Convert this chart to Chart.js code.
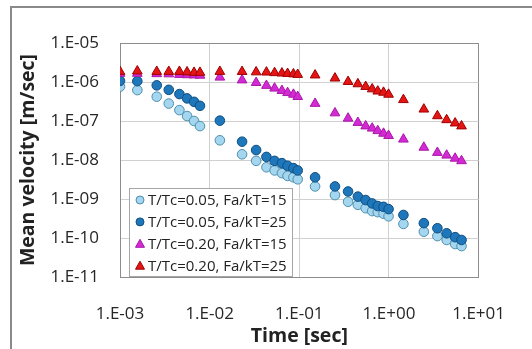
<!DOCTYPE html>
<html>
<head>
<meta charset="utf-8">
<script src="https://cdn.jsdelivr.net/npm/chart.js@4.4.1/dist/chart.umd.min.js"></script>
<style>
  html, body { margin: 0; padding: 0; background: #fff; }
  #wrap { width: 532px; height: 349px; }
</style>
</head>
<body>
<div id="wrap"><canvas id="c" width="532" height="349"></canvas></div>
<script>
// time points [sec], shared by all four series
const time = [0.001, 0.00156, 0.00257, 0.0035, 0.0046, 0.0056, 0.0067, 0.0078,
  0.013, 0.023, 0.033, 0.043, 0.053, 0.064, 0.074, 0.086, 0.096,
  0.15, 0.25, 0.35, 0.45, 0.55, 0.65, 0.75, 0.87, 0.99,
  1.45, 2.45, 3.47, 4.4, 5.47, 6.45]

// mean velocity [m/sec]
const tc005fa15 = [7.6e-7, 6.2e-7, 4.2e-7, 2.8e-7, 1.9e-7, 1.34e-7, 1.0e-7, 7.4e-8,
  3.2e-8, 1.4e-8, 9.5e-9, 6.5e-9, 5.4e-9, 4.6e-9, 3.9e-9, 3.6e-9, 3.2e-9,
  2.1e-9, 1.26e-9, 8.5e-10, 7.1e-10, 5.8e-10, 4.9e-10, 4.6e-10, 4.2e-10, 3.6e-10,
  2.3e-10, 1.45e-10, 1.12e-10, 8.9e-11, 7.0e-11, 6.2e-11]
const tc005fa25 = [1.07e-6, 1.05e-6, 8.2e-7, 6.3e-7, 4.9e-7, 3.8e-7, 3.1e-7, 2.45e-7,
  1.02e-7, 2.95e-8, 1.8e-8, 1.2e-8, 9.5e-9, 8.3e-9, 7.1e-9, 6.2e-9, 5.4e-9,
  3.6e-9, 2.1e-9, 1.56e-9, 1.15e-9, 9.4e-10, 7.7e-10, 6.6e-10, 6.3e-10, 5.5e-10,
  3.9e-10, 2.4e-10, 1.78e-10, 1.32e-10, 1.05e-10, 8.9e-11]
const tc020fa15 = [1.65e-6, 1.65e-6, 1.62e-6, 1.6e-6, 1.55e-6, 1.52e-6, 1.5e-6, 1.48e-6,
  1.32e-6, 1.12e-6, 9.6e-7, 8.1e-7, 6.9e-7, 6.0e-7, 5.3e-7, 4.8e-7, 4.2e-7,
  2.8e-7, 1.6e-7, 1.17e-7, 9.1e-8, 7.4e-8, 6.5e-8, 5.6e-8, 4.8e-8, 4.2e-8,
  3.4e-8, 2.1e-8, 1.55e-8, 1.32e-8, 1.1e-8, 9.5e-9]
const tc020fa25 = [1.85e-6, 1.9e-6, 1.85e-6, 1.85e-6, 1.85e-6, 1.8e-6, 1.75e-6, 1.75e-6,
  1.85e-6, 1.84e-6, 1.8e-6, 1.78e-6, 1.72e-6, 1.68e-6, 1.64e-6, 1.6e-6, 1.55e-6,
  1.5e-6, 1.25e-6, 1.02e-6, 8.9e-7, 7.6e-7, 6.6e-7, 5.8e-7, 5.4e-7, 4.8e-7,
  3.5e-7, 2.0e-7, 1.35e-7, 1.07e-7, 8.8e-8, 7.4e-8]

const labels = ['T/Tc=0.05, Fa/kT=15', 'T/Tc=0.05, Fa/kT=25', 'T/Tc=0.20, Fa/kT=15', 'T/Tc=0.20, Fa/kT=25']
const xTicks = [1e-3, 1e-2, 1e-1, 1e0, 1e1]
const yTicks = [1e-11, 1e-10, 1e-9, 1e-8, 1e-7, 1e-6, 1e-5]

const FONT = "'Open Sans', 'DejaVu Sans', sans-serif"

const styles = [
  {fill: '#a4d6ef', line: '#4f8fae', shape: 'circle', r: 4.8},
  {fill: '#1f77bb', line: '#0f4f82', shape: 'circle', r: 4.8},
  {fill: '#d42ad4', line: '#a818a8', shape: 'triangle', r: 5.6},
  {fill: '#e51515', line: '#a00000', shape: 'triangle', r: 5.6}
]
const series = [tc005fa15, tc005fa25, tc020fa15, tc020fa25]

function sci(v){
  const e = Math.round(Math.log10(v))
  const s = e < 0 ? '-' : '+'
  return '1.E' + s + String(Math.abs(e)).padStart(2, '0')
}

const datasets = series.map((vals, i) => ({
  label: labels[i],
  data: vals.map((v, k) => ({x: time[k], y: v})),
  pointStyle: styles[i].shape,
  pointRadius: styles[i].r,
  pointBackgroundColor: styles[i].fill,
  pointBorderColor: styles[i].line,
  pointBorderWidth: 1,
  showLine: false,
  order: 4 - i   // excel draws later series on top
}))

const frame = {
  id: 'frame',
  beforeDraw(chart){
    const ctx = chart.ctx
    ctx.save()
    ctx.fillStyle = '#fff'
    ctx.fillRect(0, 0, chart.width, chart.height)
    ctx.strokeStyle = '#8a8a8a'
    ctx.lineWidth = 2
    ctx.beginPath()
    ctx.moveTo(11, 360)
    ctx.lineTo(11, 7)
    ctx.lineTo(540, 7)
    ctx.stroke()
    ctx.restore()
  }
}

// legend box sitting inside the plot, bottom-left
const boxLegend = {
  id: 'boxLegend',
  afterDraw(chart){
    const ctx = chart.ctx
    const L = 129, T = 188, W = 163, H = 88
    ctx.save()
    ctx.fillStyle = '#fff'
    ctx.fillRect(L, T, W, H)
    ctx.strokeStyle = '#a6a6a6'
    ctx.lineWidth = 1
    ctx.strokeRect(L + 0.5, T + 0.5, W, H)
    ctx.font = '15px ' + FONT
    ctx.textBaseline = 'middle'
    ctx.fillStyle = '#222'
    labels.forEach((lab, i) => {
      const y = 200 + i * 21.9
      const st = styles[i]
      ctx.beginPath()
      if (st.shape === 'circle') {
        ctx.arc(140, y, 4, 0, Math.PI * 2)
      } else {
        ctx.moveTo(140, y - 4.5)
        ctx.lineTo(144.5, y + 3.5)
        ctx.lineTo(135.5, y + 3.5)
        ctx.closePath()
      }
      ctx.fillStyle = st.fill
      ctx.fill()
      ctx.strokeStyle = st.line
      ctx.stroke()
      ctx.fillStyle = '#222'
      ctx.fillText(lab, 148, y + 1)
    })
    ctx.restore()
  }
}

new Chart(document.getElementById('c'), {
  type: 'scatter',
  data: {datasets},
  options: {
    responsive: false,
    animation: false,
    layout: {padding: {left: 0, right: 41, top: 43, bottom: 0}},
    plugins: {legend: {display: false}, tooltip: {enabled: false}},
    scales: {
      x: {
        type: 'logarithmic',
        min: 1e-3, max: 1e1,
        afterBuildTicks: (s) => { s.ticks = xTicks.map(v => ({value: v})) },
        afterFit: (s) => { s.height = 72 },
        grid: {color: (c) => (c.index === xTicks.length - 1) ? '#8c8c8c' : '#d0d0d0', drawTicks: false, lineWidth: 1},
        border: {color: '#8c8c8c'},
        ticks: {
          callback: (v) => sci(v),
          font: {family: FONT, size: 17},
          color: '#262626',
          padding: 27,
          maxRotation: 0,
          autoSkip: false
        },
        title: {
          display: true, text: 'Time [sec]',
          font: {family: FONT, size: 19.5, weight: 'bold'},
          color: '#222',
          padding: {top: 0, bottom: 1}
        }
      },
      y: {
        type: 'logarithmic',
        min: 1e-11, max: 1e-5,
        afterBuildTicks: (s) => { s.ticks = yTicks.map(v => ({value: v})) },
        afterFit: (s) => { s.width = 120 },
        grid: {color: (c) => (c.index === yTicks.length - 1) ? '#8c8c8c' : '#d0d0d0', drawTicks: false, lineWidth: 1},
        border: {color: '#8c8c8c'},
        ticks: {
          callback: (v) => sci(v),
          font: {family: FONT, size: 17},
          color: '#262626',
          padding: 21,
          autoSkip: false
        },
        title: {
          display: true, text: 'Mean velocity [m/sec]',
          font: {family: FONT, size: 19.5, weight: 'bold'},
          color: '#222',
          padding: {top: 17, bottom: 0}
        }
      }
    }
  },
  plugins: [frame, boxLegend]
})
</script>
</body>
</html>
